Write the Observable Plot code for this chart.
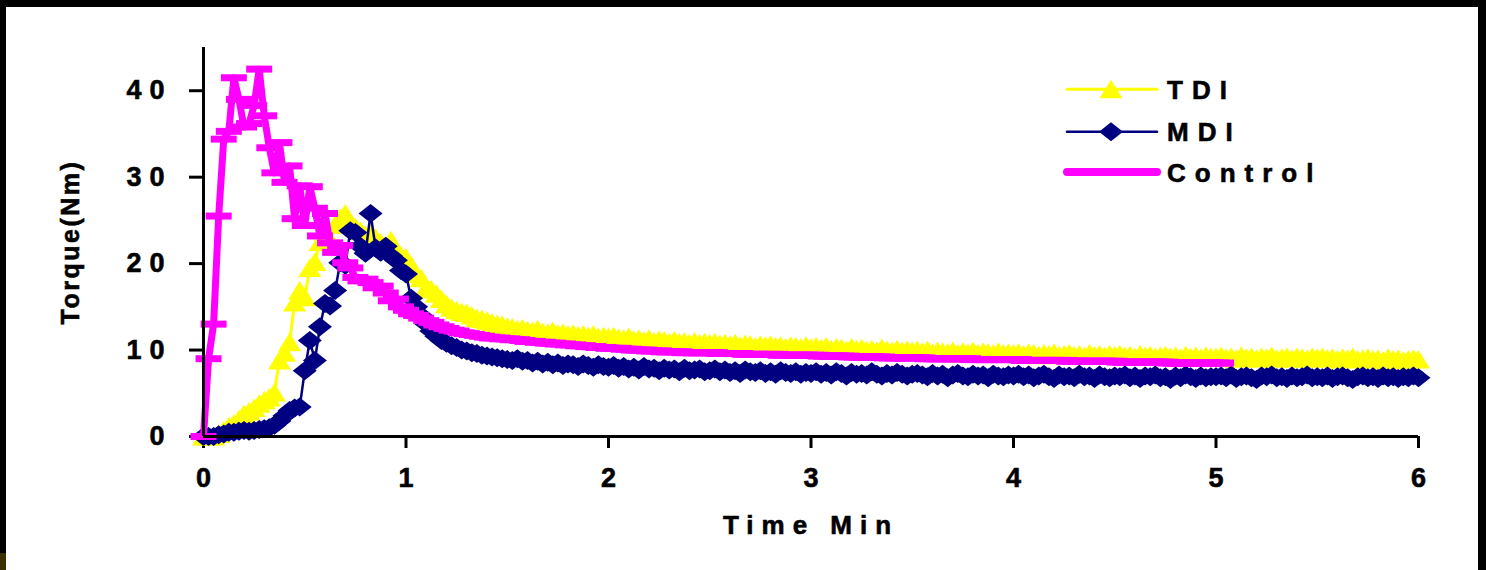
<!DOCTYPE html>
<html><head><meta charset="utf-8">
<script src="https://cdn.jsdelivr.net/npm/d3@7"></script>
<script src="https://cdn.jsdelivr.net/npm/@observablehq/plot@0.6"></script>
<style>
html,body{margin:0;padding:0;background:#000;width:1486px;height:570px;overflow:hidden;}
#panel{position:absolute;left:6px;top:7px;width:1472px;height:563px;background:#fff;}
#olive{position:absolute;left:0;top:553px;width:6px;height:17px;background:#3b3000;}
#chart svg{font-family:"Liberation Sans",Arial,sans-serif;font-weight:bold;}
#chart svg text{stroke:#000;stroke-width:0.6px;}
#chart g[aria-label="y-axis tick label"] text{letter-spacing:8px;}
</style></head>
<body><div id="olive"></div><div id="panel"><div id="chart"></div></div>
<script>
// Sampling interval of the recordings (minutes)
const sampleMin = 0.025;
const seriesNames = ["TDI", "MDI", "Control"];
const xTicks = [0, 1, 2, 3, 4, 5, 6];
const yTicks = [0, 10, 20, 30, 40];
const xTitle = "Time Min";
const yTitle = "Torque(Nm)";

const tdi = [
0, 0, 0, 0.3, 0.7, 1.2, 1.5, 2.0, 2.6, 2.9,
3.3, 3.8, 4.2, 4.5, 5.1, 8.8, 9.7, 10.9, 15.5, 16.9,
16.1, 19.5, 20.2, 22.5, 23.6, 22.8, 24.5, 25.3, 25.8, 24.8,
24.2, 23.8, 23.3, 23.5, 23.0, 22.4, 21.9, 22.7, 21.4, 20.9,
20.7, 19.8, 18.8, 18.3, 17.2, 17.0, 16.5, 15.9, 15.3, 14.9,
14.6, 14.4, 14.3, 14.0, 13.7, 13.6, 13.4, 13.2, 13.0, 12.9,
12.7, 12.6, 12.4, 12.5, 12.3, 12.2, 12.4, 12.1, 12.0, 12.2,
11.9, 12.0, 11.8, 11.9, 11.7, 11.8, 11.6, 11.8, 11.5, 11.6,
11.5, 11.6, 11.4, 11.3, 11.5, 11.2, 11.3, 11.1, 11.3, 11.0,
11.2, 11.1, 10.9, 11.1, 10.9, 11.0, 10.8, 11.0, 10.8, 10.9,
10.8, 10.9, 10.7, 10.8, 10.6, 10.8, 10.5, 10.7, 10.6, 10.4,
10.6, 10.5, 10.6, 10.4, 10.5, 10.3, 10.5, 10.4, 10.3, 10.5,
10.3, 10.4, 10.2, 10.4, 10.1, 10.3, 10.2, 10.0, 10.3, 10.1,
10.2, 10.0, 10.1, 9.9, 10.2, 10.0, 9.9, 10.1, 9.9, 10.0,
9.9, 10.0, 9.8, 10.0, 9.7, 9.9, 9.8, 9.7, 9.9, 9.6,
9.8, 9.7, 9.9, 9.6, 9.8, 9.7, 9.6, 9.8, 9.6, 9.7,
9.6, 9.7, 9.5, 9.7, 9.6, 9.4, 9.6, 9.5, 9.7, 9.4,
9.5, 9.6, 9.4, 9.5, 9.3, 9.6, 9.4, 9.5, 9.3, 9.5,
9.4, 9.5, 9.3, 9.4, 9.2, 9.5, 9.3, 9.4, 9.2, 9.3,
9.4, 9.2, 9.3, 9.1, 9.4, 9.2, 9.3, 9.1, 9.3, 9.2,
9.2, 9.3, 9.1, 9.2, 9.0, 9.3, 9.1, 9.2, 9.0, 9.2,
9.1, 9.3, 9.0, 9.1, 9.2, 9.0, 9.2, 9.1, 9.0, 9.2,
9.1, 9.2, 9.0, 9.1, 8.9, 9.1, 9.0, 9.2, 8.9, 9.0,
9.1, 8.9, 9.0, 8.8, 9.1, 8.9, 9.0, 8.8, 8.9, 9.0,
8.9
];

const mdi = [
0, 0, 0, 0.2, 0.3, 0.5, 0.5, 0.6, 0.7, 0.6,
0.7, 0.8, 0.9, 1.0, 1.3, 1.8, 2.4, 3.0, 3.3, 3.4,
7.6, 11.1, 8.8, 12.7, 15.4, 15.1, 16.9, 20.1, 19.8, 23.8,
23.6, 22.0, 21.2, 25.8, 21.8, 21.3, 22.0, 20.9, 20.4, 19.2,
18.8, 16.0, 15.0, 14.0, 13.0, 12.2, 11.6, 11.1, 10.8, 10.5,
10.3, 10.0, 9.9, 9.7, 9.6, 9.4, 9.3, 9.2, 9.1, 9.0,
8.9, 8.8, 9.0, 8.7, 8.8, 8.5, 8.7, 8.4, 8.6, 8.3,
8.5, 8.2, 8.4, 8.3, 8.1, 8.4, 8.2, 8.0, 8.3, 8.1,
8.0, 8.2, 7.9, 8.1, 7.8, 8.0, 7.7, 8.1, 7.8, 7.9,
7.6, 7.9, 7.7, 7.8, 7.5, 7.9, 7.6, 7.7, 7.8, 7.5,
7.6, 7.8, 7.5, 7.7, 7.4, 7.6, 7.3, 7.7, 7.5, 7.4,
7.6, 7.3, 7.5, 7.2, 7.6, 7.4, 7.3, 7.5, 7.2, 7.4,
7.3, 7.5, 7.2, 7.4, 7.1, 7.5, 7.3, 7.0, 7.4, 7.2,
7.3, 7.1, 7.5, 7.2, 7.0, 7.3, 7.1, 7.4, 7.2, 7.0,
7.2, 7.3, 7.1, 6.9, 7.3, 7.0, 7.2, 6.8, 7.1, 7.3,
7.0, 6.9, 7.2, 7.0, 7.1, 6.8, 7.2, 7.0, 6.9, 7.1,
7.0, 7.2, 6.9, 7.1, 6.8, 7.0, 7.2, 6.9, 6.7, 7.1,
6.9, 7.0, 6.8, 7.2, 6.9, 7.0, 6.7, 7.1, 6.9, 6.8,
7.0, 6.9, 7.1, 6.8, 7.0, 6.7, 7.0, 6.9, 7.1, 6.8,
6.9, 6.6, 7.0, 6.8, 7.1, 6.9, 6.7, 7.0, 6.8, 6.9,
6.9, 7.0, 6.8, 7.1, 6.7, 6.9, 7.0, 6.8, 6.6, 7.0,
6.9, 7.1, 6.8, 6.9, 6.7, 7.0, 6.8, 6.9, 7.1, 6.8,
6.9, 6.8, 7.0, 6.7, 6.9, 7.0, 6.8, 6.6, 6.9, 7.0,
6.8, 6.9, 6.7, 7.0, 6.8, 6.9, 6.7, 6.9, 6.8, 7.0,
6.8
];

const control = [
0, 9.0, 13.0, 25.5, 34.4, 35.3, 41.5, 39.0, 35.8, 36.2,
38.3, 42.5, 37.1, 33.4, 30.5, 34.0, 29.4, 31.3, 25.2, 29.0,
24.4, 28.9, 26.4, 23.2, 25.8, 22.4, 21.3, 22.1, 20.1, 19.5,
18.4, 18.0, 18.2, 17.8, 17.2, 17.4, 16.6, 15.7, 15.9, 15.0,
14.6, 14.2, 14.0, 13.7, 13.4, 13.2, 12.9, 12.7, 12.5, 12.3,
12.2, 12.0, 11.9, 11.8, 11.7, 11.6, 11.5, 11.4, 11.4, 11.3,
11.3, 11.2, 11.2, 11.1, 11.0, 11.0, 10.9, 10.9, 10.8, 10.8,
10.7, 10.7, 10.6, 10.6, 10.5, 10.5, 10.4, 10.4, 10.3, 10.3,
10.2, 10.2, 10.2, 10.1, 10.1, 10.0, 10.0, 10.0, 9.9, 9.9,
9.9, 9.8, 9.8, 9.8, 9.8, 9.7, 9.7, 9.7, 9.7, 9.7,
9.7, 9.7, 9.6, 9.6, 9.6, 9.6, 9.6, 9.5, 9.5, 9.5,
9.5, 9.5, 9.5, 9.5, 9.4, 9.4, 9.4, 9.4, 9.4, 9.4,
9.4, 9.4, 9.3, 9.3, 9.3, 9.3, 9.3, 9.3, 9.2, 9.2,
9.2, 9.2, 9.2, 9.2, 9.2, 9.1, 9.1, 9.1, 9.1, 9.1,
9.1, 9.1, 9.1, 9.0, 9.0, 9.0, 9.0, 9.0, 9.0, 9.0,
9.0, 9.0, 8.9, 8.9, 8.9, 8.9, 8.9, 8.9, 8.9, 8.9,
8.9, 8.9, 8.8, 8.8, 8.8, 8.8, 8.8, 8.8, 8.8, 8.8,
8.8, 8.7, 8.7, 8.7, 8.7, 8.7, 8.7, 8.7, 8.7, 8.7,
8.7, 8.6, 8.6, 8.6, 8.6, 8.6, 8.6, 8.6, 8.6, 8.6,
8.6, 8.5, 8.5, 8.5, 8.5, 8.5, 8.5, 8.5, 8.5, 8.5,
8.5, 8.5
];

const toRows = (vals) => vals.map((v, i) => ({t: i * sampleMin, v}));
const dTDI = toRows(tdi), dMDI = toRows(mdi), dCtl = toRows(control);

// marker shapes
const triangleSym = {draw(c){c.moveTo(0,-9.5);c.lineTo(11.5,9);c.lineTo(-11.5,9);c.closePath();}};
const diamondSym = {draw(c){c.moveTo(0,-9.5);c.lineTo(12,0);c.lineTo(0,9.5);c.lineTo(-12,0);c.closePath();}};
const dashSym = {draw(c){c.rect(-13,-3.5,26,7);}};

const colors = {TDI: "#FFFF00", MDI: "#000080", Control: "#FF00FF"};
const font = "'Liberation Sans', Arial, sans-serif";

const chart = Plot.plot({
  width: 1472, height: 563,
  marginLeft: 197, marginRight: 60, marginTop: 40, marginBottom: 134,
  x: {domain: [0, 6]},
  y: {domain: [0, 45]},
  style: {fontFamily: font, fontSize: "27px", fontWeight: "bold", background: "white", color: "black", overflow: "visible"},
  marks: [
    Plot.axisX({ticks: xTicks, tickSize: 12, tickPadding: 19, strokeWidth: 3, label: null, fontSize: 27, fontWeight: "bold", tickFormat: d => String(d)}),
    Plot.axisY({ticks: yTicks, tickSize: 14, tickPadding: 17, strokeWidth: 3, label: null, fontSize: 27, fontWeight: "bold", tickFormat: d => String(d)}),
    Plot.line(dTDI, {x: "t", y: "v", stroke: colors.TDI, strokeWidth: 3, strokeLinejoin: "round"}),
    Plot.dot(dTDI, {x: "t", y: "v", symbol: triangleSym, fill: colors.TDI, stroke: "none", r: 8}),
    Plot.line(dMDI, {x: "t", y: "v", stroke: colors.MDI, strokeWidth: 2.5, strokeLinejoin: "round"}),
    Plot.dot(dMDI, {x: "t", y: "v", symbol: diamondSym, fill: colors.MDI, stroke: "none", r: 8}),
    Plot.line(dCtl, {x: "t", y: "v", stroke: colors.Control, strokeWidth: 7, strokeLinejoin: "round", strokeLinecap: "round"}),
    Plot.dot(dCtl, {x: "t", y: "v", symbol: dashSym, fill: colors.Control, stroke: "none", r: 8}),
    Plot.ruleX([0], {stroke: "black", strokeWidth: 3}),
    Plot.ruleY([0], {stroke: "black", strokeWidth: 3}),
    Plot.text([xTitle], {frameAnchor: "bottom", dy: 89, textAnchor: "middle", lineAnchor: "middle", fontSize: 26, fontWeight: "bold", fill: "black"}),
    Plot.text([yTitle], {frameAnchor: "left", dx: -133, rotate: -90, textAnchor: "middle", lineAnchor: "middle", fontSize: 25, fontWeight: "bold", fill: "black"})
  ]
});
document.getElementById("chart").appendChild(chart);

// letter spacing on titles
d3.select(chart).selectAll("text").filter(function(){ return this.textContent === xTitle; }).style("letter-spacing", "8px");
d3.select(chart).selectAll("text").filter(function(){ return this.textContent === yTitle; }).style("letter-spacing", "2.5px");

// legend (inside plot area, top right)
const legend = d3.select(chart).append("g").attr("font-family", font).attr("font-weight", "bold").attr("font-size", 26).attr("text-anchor", "start");
const legendRows = [
  {name: seriesNames[0], y: 82.3, sym: triangleSym, lw: 3},
  {name: seriesNames[1], y: 124.7, sym: diamondSym, lw: 2.5},
  {name: seriesNames[2], y: 165, sym: null, lw: 8}
];
legendRows.forEach(r => {
  const g = legend.append("g");
  g.append("line").attr("x1", 1061).attr("x2", 1151).attr("y1", r.y).attr("y2", r.y)
    .attr("stroke", colors[r.name]).attr("stroke-width", r.lw).attr("stroke-linecap", "round");
  if (r.sym) g.append("path").attr("d", d3.symbol(r.sym)()).attr("transform", `translate(1105,${r.y})`).attr("fill", colors[r.name]);
  g.append("text").attr("x", 1161).attr("y", r.y + 9.5).attr("fill", "black").attr("text-anchor", "start").style("letter-spacing", "9px").text(r.name);
});
</script></body></html>
